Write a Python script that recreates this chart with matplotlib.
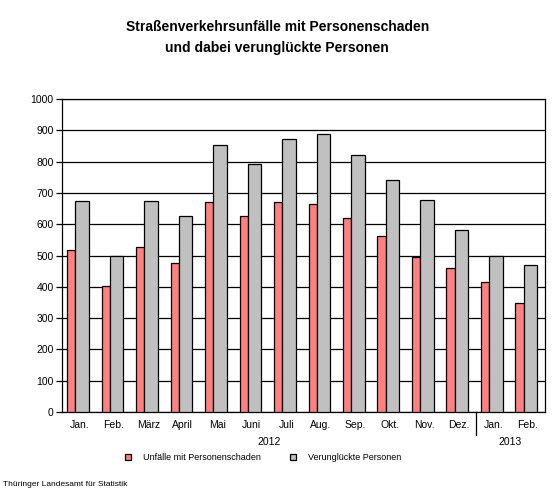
import numpy as np
import matplotlib.pyplot as plt

plt.rcParams['font.family'] = ['Liberation Sans', 'DejaVu Sans']

# data
months = ['Jan.', 'Feb.', 'März', 'April', 'Mai', 'Juni', 'Juli', 'Aug.',
          'Sep.', 'Okt.', 'Nov.', 'Dez.', 'Jan.', 'Feb.']
unfaelle = [519, 404, 526, 477, 670, 625, 670, 664, 620, 562, 495, 459, 414, 349]
verunglueckte = [673, 500, 673, 625, 853, 791, 873, 889, 822, 741, 676, 583, 500, 471]
years = ['2012', '2013']
year_counts = [12, 2]

fig = plt.figure(figsize=(5.6, 5.0), dpi=100)
ax = fig.add_axes([0.111, 0.176, 0.862, 0.626])

x = np.arange(len(months))
ax.bar(x + 0.265, unfaelle, width=0.24, color='#FF8080', edgecolor='black',
       linewidth=0.9, label='Unfälle mit Personenschaden', zorder=3)
ax.bar(x + 0.58, verunglueckte, width=0.39, color='#C0C0C0', edgecolor='black',
       linewidth=0.9, label='Verunglückte Personen', zorder=3)

ax.set_xlim(0, len(months))
ax.set_ylim(0, 1000)
ax.set_yticks(np.arange(0, 1001, 100))
ax.yaxis.grid(True, color='black', linewidth=0.9, zorder=0)
ax.tick_params(axis='y', labelsize=7.5, length=4, width=0.9, pad=2)
ax.set_xticks(x + 0.5)
ax.set_xticklabels(months, fontsize=7.5)
ax.tick_params(axis='x', length=0, pad=6)
for s in ax.spines.values():
    s.set_linewidth(0.9)

# year separator and year labels
start = 0
for yr, n in zip(years, year_counts):
    ax.text(start + n / 2, -0.095, yr, transform=ax.get_xaxis_transform(),
            ha='center', va='center', fontsize=7.5)
    start += n
    if start < len(months):
        ax.plot([start, start], [0, -0.075], transform=ax.get_xaxis_transform(),
                color='black', linewidth=0.9, clip_on=False)

fig.text(0.495, 0.925, 'Straßenverkehrsunfälle mit Personenschaden\nund dabei verunglückte Personen',
         ha='center', va='center', fontsize=10, fontweight='bold', linespacing=1.6)

fig.legend(loc='center', bbox_to_anchor=(0.47, 0.085), ncol=2, frameon=False,
           fontsize=6.5, handlelength=0.7, handleheight=0.7, columnspacing=3.2,
           handletextpad=1.3)

fig.text(0.005, 0.03, 'Thüringer Landesamt für Statistik', fontsize=6,
         ha='left', va='center')

fig.savefig('out.png', dpi=100)
